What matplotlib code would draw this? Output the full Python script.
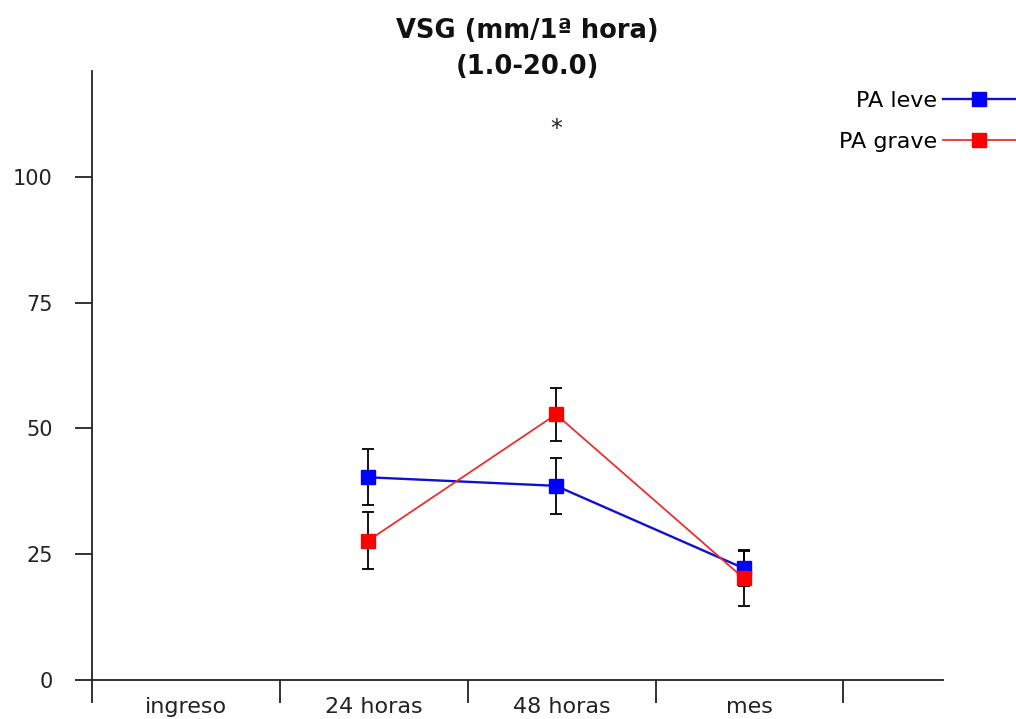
import matplotlib
matplotlib.use("Agg")
import matplotlib.pyplot as plt
import numpy as np

# Erythrocyte sedimentation rate by time point and severity group
categories = ["ingreso", "24 horas", "48 horas", "mes"]
leve_mean = [np.nan, 40.3, 38.6, 22.2]
leve_err = [np.nan, 5.6, 5.6, 3.6]
grave_mean = [np.nan, 27.7, 52.8, 20.2]
grave_err = [np.nan, 5.6, 5.3, 5.5]
y_ticks = [0, 25, 50, 75, 100]
title_text = "VSG (mm/1ª hora)\n(1.0-20.0)"
significance = "*"
signif_index = 2
signif_y = 109.5

fig = plt.figure(figsize=(10.16, 7.19), dpi=100)
ax = fig.add_axes([92 / 1016, 39 / 719, 851 / 1016, 609 / 719])

x = np.arange(len(categories)) + 0.5 - 0.03
axis_col = "#222222"

ax.errorbar(x, leve_mean, yerr=leve_err, fmt="none", ecolor="black",
            elinewidth=1.3, capsize=4.5, capthick=1.3, zorder=2)
ax.errorbar(x, grave_mean, yerr=grave_err, fmt="none", ecolor="black",
            elinewidth=1.3, capsize=4.5, capthick=1.3, zorder=2)
ax.plot(x, leve_mean, color="#1010d0", lw=1.7, marker="s", ms=10,
        mfc="#0000ff", mec="#0000ff", label="PA leve", zorder=3)
ax.plot(x, grave_mean, color="#e83030", lw=1.3, marker="s", ms=10,
        mfc="#ff0000", mec="#ff0000", label="PA grave", zorder=4)

ax.text(x[signif_index], signif_y, significance, ha="center", va="center",
        fontsize=17, color="#222222")

ax.set_xlim(0, 4.53)
ax.set_ylim(0, 121.07)

for side in ("top", "right"):
    ax.spines[side].set_visible(False)
for side in ("left", "bottom"):
    ax.spines[side].set_linewidth(1.3)
    ax.spines[side].set_color(axis_col)

ax.set_yticks(y_ticks)
ax.set_yticklabels([str(v) for v in y_ticks])
ax.tick_params(axis="y", direction="out", length=12.2, width=1.3,
               color=axis_col, pad=16, labelsize=15, labelcolor="#222222")

ax.set_xticks(np.arange(len(categories) + 1))
ax.set_xticklabels([])
ax.tick_params(axis="x", which="major", direction="out", length=16.5,
               width=1.3, color=axis_col)
ax.set_xticks(np.arange(len(categories)) + 0.5, minor=True)
ax.set_xticklabels(categories, minor=True)
ax.tick_params(axis="x", which="minor", length=0, pad=12, labelsize=16,
               labelcolor="#222222")

fig.text(527 / 1016, 1 - 48.5 / 719, title_text, ha="center", va="center",
         fontsize=18.5, fontweight="bold", color="#111111", linespacing=1.5)

ax.legend(loc="upper right", bbox_to_anchor=(1.0, 1 - 91 / 719),
          bbox_transform=fig.transFigure, frameon=False, markerfirst=False,
          numpoints=1, handlelength=3.3, handletextpad=0.25, borderpad=0,
          borderaxespad=0, labelspacing=0.95, fontsize=16)

fig.savefig("out.png", dpi=100)
